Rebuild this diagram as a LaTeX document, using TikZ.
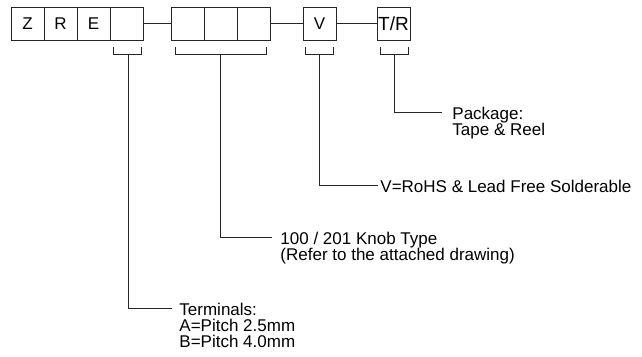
\documentclass[tikz,border=0pt]{standalone}
\usepackage{fontspec}
\setmainfont{Liberation Sans}
\usetikzlibrary{positioning}

\tikzset{
  cell/.style={draw, minimum width=33pt, minimum height=33pt, inner sep=0pt, outer sep=0pt, font=\fontsize{17}{17}\selectfont},
  lbl/.style={align=left, inner sep=0pt, anchor=north west, font=\fontsize{17}{16}\selectfont},
  lead/.style={draw=black!85, line width=0.9pt}
}

\begin{document}
\begin{tikzpicture}[x=1pt, y=-1pt, line width=0.9pt, draw=black!85]
                \useasboundingbox (0,0) rectangle (642,356);

                % Part number boxes
                \node[cell] (z) at (27.5,23.5) {Z};
                \node[cell, right=0pt of z] (r) {R};
                \node[cell, right=0pt of r] (e) {E};
                \node[cell, right=0pt of e] (term) {};
                \node[cell, right=28pt of term] (knobA) {};
                \node[cell, right=0pt of knobA] (knobB) {};
                \node[cell, right=0pt of knobB] (knobC) {};
                \node[cell, right=33pt of knobC] (rohs) {V};
                \node[cell, right=41pt of rohs, font=\fontsize{19}{19}\selectfont] (pack) {T/R};

                \draw[lead] (term.east) -- (knobA.west);
                \draw[lead] (knobC.east) -- (rohs.west);
                \draw[lead] (rohs.east) -- (pack.west);

                % Brackets under the boxes
                \draw[lead] (113,47) -- (113,54) -- (141,54) -- (141,47);
                \draw[lead] (175,47) -- (175,54) -- (266,54) -- (266,47);
                \draw[lead] (305,47) -- (305,54) -- (333,54) -- (333,47);
                \draw[lead] (380,47) -- (380,54) -- (408,54) -- (408,47);
                \coordinate (termB) at (128,54);
                \coordinate (knobM) at (220,54);
                \coordinate (rohsB) at (319,54);
                \coordinate (packB) at (394,54);

                % Leaders to the labels
                \coordinate (packE) at (442,112);
                \coordinate (rohsE) at (378,185);
                \coordinate (knobE) at (272,237);
                \coordinate (termE) at (172,308);
                \draw[lead] (packB) |- (packE);
                \draw[lead] (rohsB) |- (rohsE);
                \draw[lead] (knobM) |- (knobE);
                \draw[lead] (termB) |- (termE);

                % Labels
                \node[lbl] (packL) at ([xshift=10pt, yshift=5.5pt]packE) {Package:\\Tape \& Reel};
                \node[lbl] (rohsL) at ([xshift=2pt, yshift=5.5pt]rohsE) {V=RoHS \& Lead Free Solderable};
                \node[lbl] (knobL) at ([xshift=8pt, yshift=5.5pt]knobE) {100 / 201 Knob Type\\(Refer to the attached drawing)};
                \node[lbl] (termL) at ([xshift=7pt, yshift=5.5pt]termE) {Terminals:\\A=Pitch 2.5mm\\B=Pitch 4.0mm};
            \end{tikzpicture}
\end{document}
